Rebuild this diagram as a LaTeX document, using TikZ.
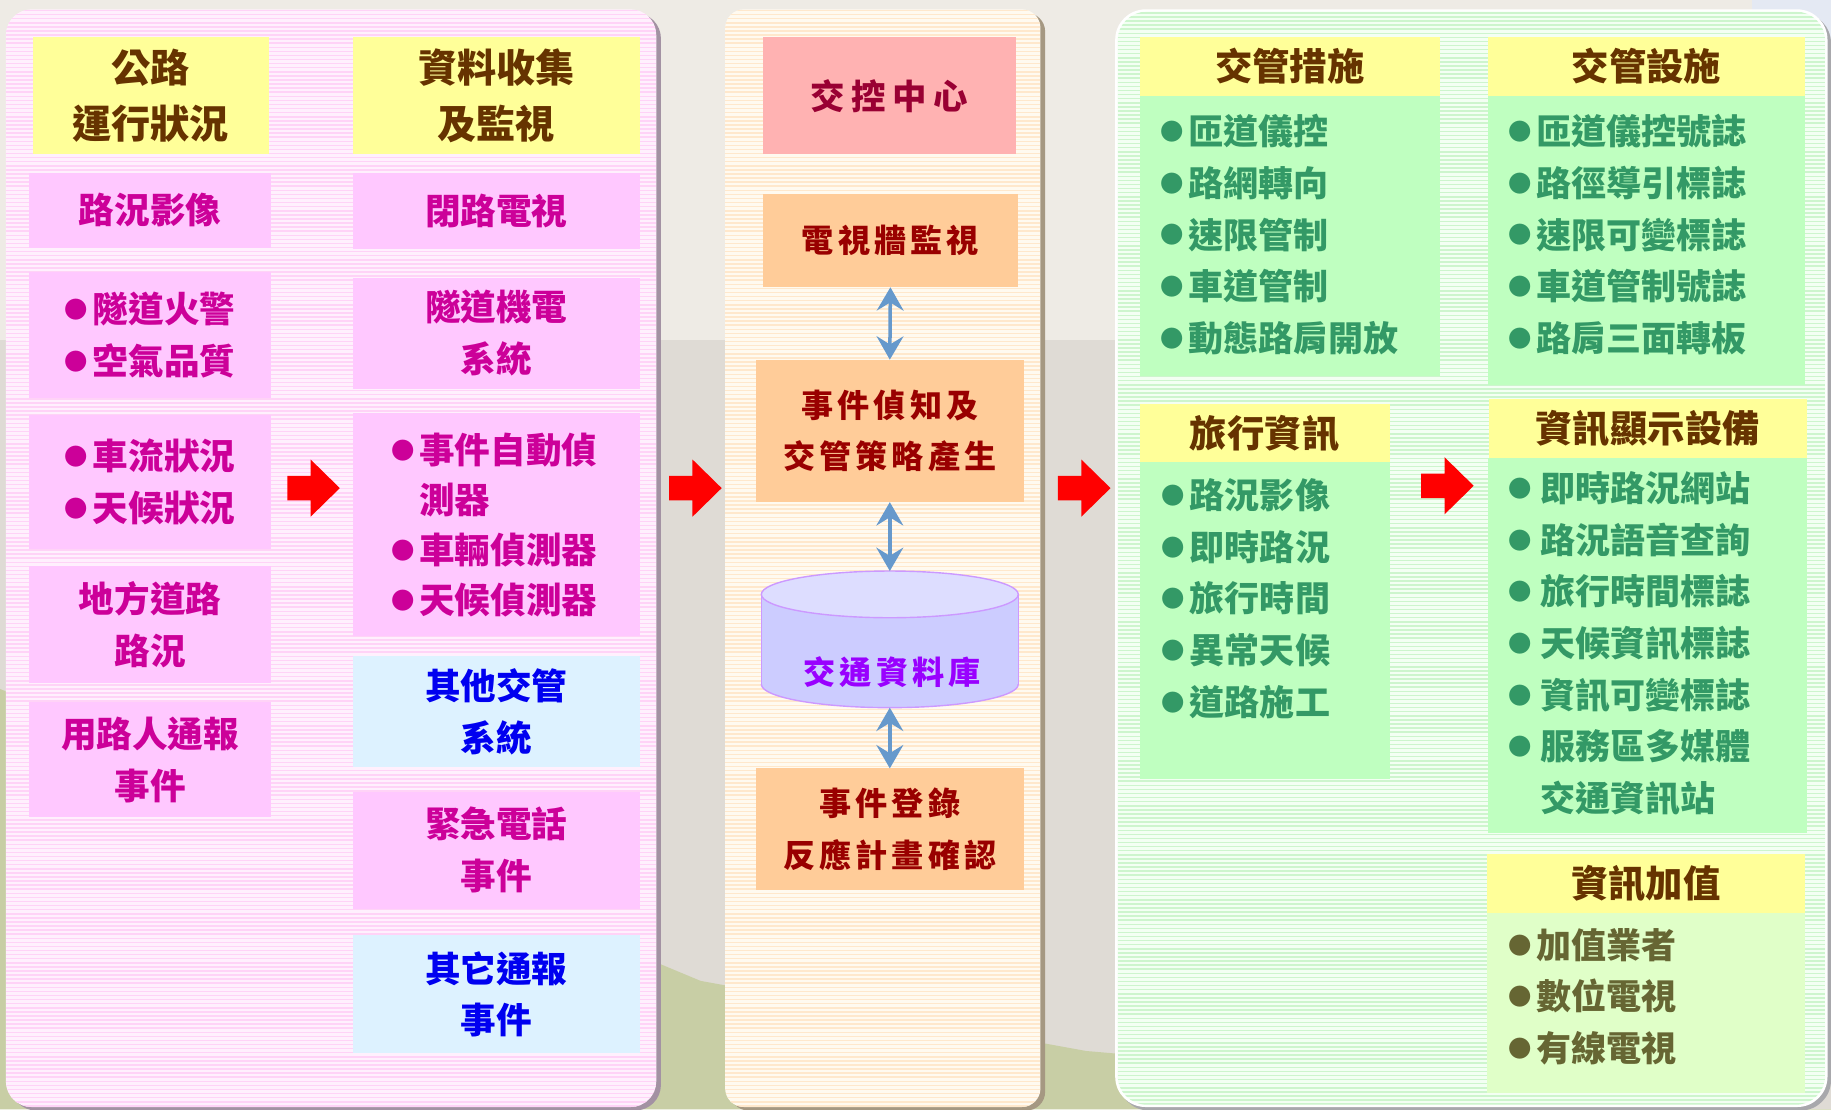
\documentclass[tikz,border=0pt]{standalone}
\usepackage{fontspec}
\setmainfont{Noto Sans CJK TC}
\usetikzlibrary{arrows.meta}
\definecolor{bgTop}{HTML}{EEEBE5}
\definecolor{bgMid}{HTML}{DFDBD5}
\definecolor{bgGreen}{HTML}{C8CEA5}
\definecolor{bgBlue}{HTML}{E4E9F3}
\definecolor{panL}{HTML}{FFF0FD}
\definecolor{strL}{HTML}{FFD3F7}
\definecolor{panM}{HTML}{FFFAF0}
\definecolor{strM}{HTML}{FFE8CC}
\definecolor{panR}{HTML}{F3FFF3}
\definecolor{strR}{HTML}{CDF5CD}
\definecolor{shL}{HTML}{A392A3}
\definecolor{shM}{HTML}{A59882}
\definecolor{shR}{HTML}{A8A8AC}
\definecolor{cYel}{HTML}{FFFF99}
\definecolor{cBrown}{HTML}{663300}
\definecolor{cPink}{HTML}{FFC8FF}
\definecolor{cMag}{HTML}{CC0099}
\definecolor{cLBlue}{HTML}{DDF2FF}
\definecolor{cBlue}{HTML}{0000F0}
\definecolor{cSalmon}{HTML}{FFB2B2}
\definecolor{cPeach}{HTML}{FFCC99}
\definecolor{cDRed}{HTML}{990000}
\definecolor{cWine}{HTML}{990033}
\definecolor{cGreen}{HTML}{BFFFC0}
\definecolor{cGText}{HTML}{339966}
\definecolor{cLime}{HTML}{E0FFC8}
\definecolor{cOlive}{HTML}{666633}
\definecolor{cylBody}{HTML}{CCCCFF}
\definecolor{cylTop}{HTML}{DDDDFF}
\definecolor{cylLine}{HTML}{CC99FF}
\definecolor{cylText}{HTML}{9900FF}
\definecolor{cArrow}{HTML}{6699CC}
\newcommand\myHdrFont{\bfseries\fontsize{33.5}{48}\selectfont}
\newcommand\myPFont{\bfseries\fontsize{30.5}{44.5}\selectfont}
\newcommand\myMFont{\bfseries\fontsize{27.5}{44}\selectfont\addfontfeature{LetterSpace=13}}
\newcommand\myTFont{\bfseries\fontsize{29.5}{44}\selectfont\addfontfeature{LetterSpace=20}}
\newcommand\myGFont{\bfseries\fontsize{30}{44.2}\selectfont}
\newcommand\myRHFont{\bfseries\fontsize{32}{40}\selectfont}
\newcommand\myBul{\raisebox{3.5pt}{\fontsize{20}{20}\selectfont ●}\hspace{4pt}}
\begin{document}
\begin{tikzpicture}[x=1pt,y=-1pt,
  every node/.style={inner sep=0pt, outer sep=0pt},
  boxbase/.style={anchor=north west, align=center},
  hdr/.style={boxbase, fill=cYel, text=cBrown, font=\myHdrFont},
  pbox/.style={boxbase, fill=cPink, text=cMag, font=\myPFont},
  bbox/.style={boxbase, fill=cLBlue, text=cBlue, font=\myPFont},
  obox/.style={boxbase, fill=cPeach, text=cDRed, font=\myMFont},
  tbox/.style={boxbase, fill=cSalmon, text=cWine, font=\myTFont},
  rhdr/.style={boxbase, fill=cYel, text=cBrown, font=\myRHFont},
  gbody/.style={boxbase, fill=cGreen},
  lbody/.style={boxbase, fill=cLime},
  glist/.style={anchor=north west, align=left, text=cGText, font=\myGFont},
  olist/.style={glist, text=cOlive},
  dbl/.style={cArrow, line width=3pt,
    {Stealth[length=20pt,width=23pt,inset=7pt]}-{Stealth[length=20pt,width=23pt,inset=7pt]}},
  redarr/.pic={\fill[red] (0,-10.5) -- (20,-10.5) -- (20,-24.5) -- (45,0) -- (20,24.5) -- (20,10.5) -- (0,10.5) -- cycle;}
]
% background
\useasboundingbox (0,0) rectangle (1568,950);
\fill[bgTop] (0,0) rectangle (1568,950);
\fill[bgMid] (0,291) rectangle (1568,950);
\fill[bgGreen] (0,590) -- (600,840) -- (930,900) -- (1568,955) -- (1568,950) -- (0,950) -- cycle;
\fill[bgBlue] (1500,0) rectangle (1568,420);

% left panel
\fill[shL, rounded corners=22] (9,11) rectangle (566,951);
\fill[panL, rounded corners=22] (5,8) rectangle (562,948);
\begin{scope}
  \clip[rounded corners=22] (5,8) rectangle (562,948);
  \foreach \yy in {9,12.5,...,948} \draw[strL, line width=1.3pt] (5,\yy) -- (562,\yy);
\end{scope}
% middle panel
\fill[shM, rounded corners=16] (625,11) rectangle (895,951);
\fill[panM, rounded corners=16] (621,8) rectangle (891,948);
\begin{scope}
  \clip[rounded corners=16] (621,8) rectangle (891,948);
  \foreach \yy in {9,12.5,...,948} \draw[strM, line width=1.3pt] (621,\yy) -- (891,\yy);
\end{scope}
% right panel
\fill[shR, rounded corners=26] (958,11) rectangle (1568,951);
\fill[white, rounded corners=26] (955,8) rectangle (1565,948);
\fill[panR, rounded corners=25] (957,10) rectangle (1563,946);
\begin{scope}
  \clip[rounded corners=25] (957,10) rectangle (1563,946);
  \foreach \yy in {11,14.5,...,948} \draw[strR, line width=1.3pt] (957,\yy) -- (1563,\yy);
\end{scope}

% left column boxes
\node[hdr, minimum width=202, minimum height=100] (hA) at (28,32) {公路\\運行狀況};
\node[hdr, minimum width=246, minimum height=100] (hB) at (302,32) {資料收集\\及監視};
\node[pbox, minimum width=207, minimum height=64] (L1) at (25,148) {路況影像};
\node[pbox, minimum width=246, minimum height=65] (R1) at (302,148) {閉路電視};
\node[pbox, minimum width=207, minimum height=108] (L2) at (25,233) {\myBul 隧道火警\\\myBul 空氣品質};
\node[pbox, minimum width=246, minimum height=95] (R2) at (302,238) {隧道機電\\系統};
\node[pbox, minimum width=207, minimum height=115] (L3) at (25,355) {\myBul 車流狀況\\\myBul 天候狀況};
\node[pbox, minimum width=246, minimum height=191] (R3) at (302,354) {};
\node[anchor=north west, align=left, text=cMag, font=\bfseries\fontsize{30.5}{42.7}\selectfont] (R3t) at (335,371) {\myBul 事件自動偵\\\phantom{\myBul}測器\\\myBul 車輛偵測器\\\myBul 天候偵測器};
\node[pbox, minimum width=207, minimum height=100] (L4) at (25,485) {地方道路\\路況};
\node[pbox, minimum width=207, minimum height=99] (L5) at (25,601) {用路人通報\\事件};
\node[bbox, minimum width=246, minimum height=95] (R4) at (302,562) {其他交管\\系統};
\node[pbox, minimum width=246, minimum height=100] (R5) at (302,678) {緊急電話\\事件};
\node[bbox, minimum width=246, minimum height=101] (R6) at (302,801) {其它通報\\事件};

% middle column
\node[tbox, minimum width=217, minimum height=100] (M1) at (653,32) {交控中心};
\node[obox, minimum width=219, minimum height=80] (M2) at (653,166) {電視牆監視};
\node[obox, minimum width=230, minimum height=122] (M3) at (647,308) {事件偵知及\\交管策略產生};
\node[obox, minimum width=230, minimum height=104] (M4) at (647,658) {事件登錄\\反應計畫確認};
% database cylinder
\fill[cylBody] (652,509) rectangle (872,586);
\fill[cylBody] (762,586) ellipse [x radius=110, y radius=20];
\begin{scope}
  \clip (640,586) rectangle (885,620);
  \draw[cylLine, line width=1.2pt] (762,586) ellipse [x radius=110, y radius=20];
\end{scope}
\draw[cylLine, line width=1.2pt] (652,509) -- (652,586) (872,509) -- (872,586);
\fill[cylTop, draw=cylLine, line width=1.2pt] (762,509) ellipse [x radius=110, y radius=20];
\coordinate (dbTop) at (762,489);
\coordinate (dbBot) at (762,606);
\node[text=cylText, font=\myMFont] (db) at (764,576) {交通資料庫};
\draw[dbl] (M2.south) -- (M3.north);
\draw[dbl] (M3.south) -- (dbTop);
\draw[dbl] (dbBot) -- (M4.north);

% right column
\node[rhdr, minimum width=257, minimum height=50] (G1h) at (976,32) {交管措施};
\node[gbody, minimum width=257, minimum height=240] (G1b) at (976,82) {};
\node[glist] (G1t) at (994,98) {\myBul 匝道儀控\\\myBul 路網轉向\\\myBul 速限管制\\\myBul 車道管制\\\myBul 動態路肩開放};
\node[rhdr, minimum width=272, minimum height=50] (G2h) at (1274,32) {交管設施};
\node[gbody, minimum width=272, minimum height=248] (G2b) at (1274,82) {};
\node[glist] (G2t) at (1292,98) {\myBul 匝道儀控號誌\\\myBul 路徑導引標誌\\\myBul 速限可變標誌\\\myBul 車道管制號誌\\\myBul 路肩三面轉板};
\node[rhdr, minimum width=214, minimum height=50] (G3h) at (976,346) {旅行資訊};
\node[gbody, minimum width=214, minimum height=271] (G3b) at (976,396) {};
\node[glist] (G3t) at (995,410) {\myBul 路況影像\\\myBul 即時路況\\\myBul 旅行時間\\\myBul 異常天候\\\myBul 道路施工};
\node[rhdr, minimum width=272, minimum height=50] (G4h) at (1275,342) {資訊顯示設備};
\node[gbody, minimum width=273, minimum height=321] (G4b) at (1274,392) {};
\node[glist] (G4t) at (1292,404) {\myBul\hspace{3pt}即時路況網站\\\myBul\hspace{3pt}路況語音查詢\\\myBul\hspace{3pt}旅行時間標誌\\\myBul\hspace{3pt}天候資訊標誌\\\myBul\hspace{3pt}資訊可變標誌\\\myBul\hspace{3pt}服務區多媒體\\\phantom{\myBul}\hspace{3pt}交通資訊站};
\node[rhdr, minimum width=273, minimum height=51] (G5h) at (1273,731) {資訊加值};
\node[lbody, minimum width=273, minimum height=154] (G5b) at (1273,782) {};
\node[olist] (G5t) at (1292,795) {\myBul 加值業者\\\myBul 數位電視\\\myBul 有線電視};

% red flow arrows
\pic at (246,418) {redarr};
\pic at (573,418) {redarr};
\pic at (906,418) {redarr};
\pic at (1217,416) {redarr};
\end{tikzpicture}
\end{document}
